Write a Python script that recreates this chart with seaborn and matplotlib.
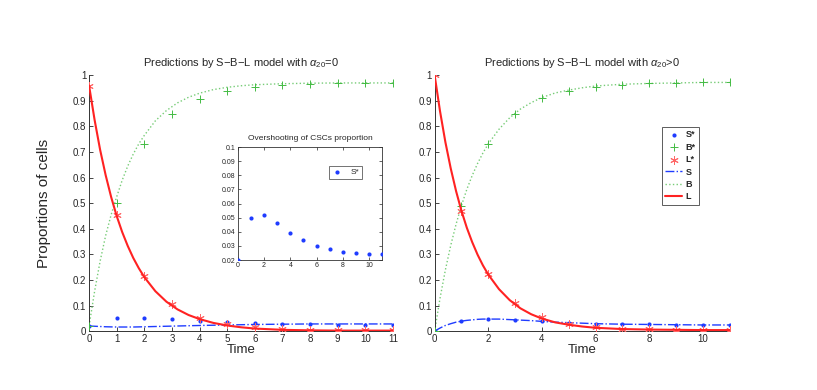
import numpy as np
import matplotlib
matplotlib.use("Agg")
import matplotlib.pyplot as plt
import seaborn as sns

# measured time points (markers)
t_obs = [0, 1, 2, 3, 4, 5, 6, 7, 8, 9, 10, 11]
# model time grid (curves)
t_mod = [0, 0.2, 0.4, 0.6, 0.8, 1.0, 1.2, 1.4, 1.6, 1.8, 2.0, 2.4, 2.8, 3.2, 3.6, 4.0,
         4.5, 5, 5.5, 6, 7, 8, 9, 10, 11]

# left panel: alpha20 = 0
s_obs_l = [0.020, 0.050, 0.052, 0.046, 0.0395, 0.034, 0.030, 0.0278, 0.026, 0.025, 0.0245, 0.024]
b_obs_l = [0.020, 0.500, 0.733, 0.849, 0.908, 0.938, 0.955, 0.963, 0.966, 0.969, 0.970, 0.970]
l_obs_l = [0.960, 0.452, 0.216, 0.105, 0.053, 0.028, 0.015, 0.009, 0.006, 0.005, 0.004, 0.004]
s_mod_l = [0.020, 0.019, 0.018, 0.017, 0.0165, 0.016, 0.016, 0.016, 0.016, 0.0165, 0.017, 0.018,
           0.019, 0.020, 0.021, 0.022, 0.023, 0.024, 0.025, 0.026, 0.027, 0.028, 0.028, 0.028, 0.028]
b_mod_l = [0.020, 0.155, 0.273, 0.373, 0.455, 0.525, 0.590, 0.645, 0.692, 0.732, 0.765, 0.822,
           0.862, 0.892, 0.914, 0.930, 0.944, 0.953, 0.959, 0.963, 0.967, 0.969, 0.970, 0.970, 0.970]
l_mod_l = [0.960, 0.826, 0.709, 0.610, 0.524, 0.450, 0.387, 0.333, 0.286, 0.246, 0.211, 0.156,
           0.115, 0.085, 0.063, 0.047, 0.032, 0.022, 0.015, 0.010, 0.005, 0.003, 0.002, 0.002, 0.002]

# right panel: alpha20 > 0
s_obs_r = [0.000, 0.040, 0.047, 0.044, 0.038, 0.033, 0.029, 0.027, 0.026, 0.025, 0.024, 0.024]
b_obs_r = [0.000, 0.490, 0.730, 0.848, 0.910, 0.940, 0.955, 0.963, 0.968, 0.970, 0.972, 0.973]
l_obs_r = [1.000, 0.470, 0.225, 0.110, 0.055, 0.028, 0.016, 0.010, 0.007, 0.005, 0.004, 0.004]
s_mod_r = [0.000, 0.012, 0.022, 0.029, 0.035, 0.039, 0.042, 0.044, 0.046, 0.047, 0.047, 0.047,
           0.045, 0.043, 0.041, 0.038, 0.035, 0.033, 0.031, 0.029, 0.027, 0.026, 0.025, 0.024, 0.024]
b_mod_r = [0.000, 0.128, 0.239, 0.335, 0.418, 0.491, 0.554, 0.608, 0.655, 0.696, 0.732, 0.789,
           0.834, 0.868, 0.893, 0.913, 0.931, 0.942, 0.951, 0.958, 0.965, 0.968, 0.970, 0.972, 0.972]
l_mod_r = [1.000, 0.860, 0.739, 0.636, 0.547, 0.470, 0.404, 0.348, 0.299, 0.257, 0.221, 0.164,
           0.121, 0.089, 0.066, 0.049, 0.034, 0.025, 0.018, 0.013, 0.008, 0.006, 0.005, 0.004, 0.004]

sns.set_style("ticks")
plt.rcParams['font.family'] = ['Liberation Sans', 'DejaVu Sans']
plt.rcParams['mathtext.fontset'] = 'custom'
plt.rcParams['mathtext.rm'] = 'Liberation Sans'
plt.rcParams['mathtext.it'] = 'Liberation Sans:italic'
plt.rcParams['xtick.direction'] = 'in'
plt.rcParams['ytick.direction'] = 'in'

BLUE = '#1f3cff'
GREEN = '#44bb44'
GREEN_L = '#77cc77'
RED = '#ff2222'
RED_M = '#ff6666'
ASTERISK = (6, 2, 0)

fig = plt.figure(figsize=(8.17, 3.90), dpi=100)
ax_l = fig.add_axes([0.109, 0.151, 0.372, 0.656])
ax_r = fig.add_axes([0.532, 0.151, 0.361, 0.656])


def draw_panel(ax, s_obs, b_obs, l_obs, s_mod, b_mod, l_mod):
    sns.scatterplot(x=t_obs, y=s_obs, ax=ax, color=BLUE, marker='o', s=9, linewidth=0,
                    label='S*', zorder=4)
    sns.scatterplot(x=t_obs, y=b_obs, ax=ax, color=GREEN, marker='+', s=40, linewidth=0.7,
                    label='B*', zorder=4)
    sns.scatterplot(x=t_obs, y=l_obs, ax=ax, color=RED_M, marker=ASTERISK, s=30, linewidth=0.7,
                    edgecolor=RED_M, label='L*', zorder=4)
    sns.lineplot(x=t_mod, y=s_mod, ax=ax, color=BLUE, linestyle='-.', linewidth=1.0, label='S')
    sns.lineplot(x=t_mod, y=b_mod, ax=ax, color=GREEN_L, linestyle=':', linewidth=1.0, label='B')
    sns.lineplot(x=t_mod, y=l_mod, ax=ax, color=RED, linestyle='-', linewidth=1.5, label='L',
                 zorder=5)
    ax.set_xlim(0, 11)
    ax.set_ylim(0, 1)
    ax.set_yticks(np.arange(0, 1.01, 0.1))
    ax.set_yticklabels(['0', '0.1', '0.2', '0.3', '0.4', '0.5', '0.6', '0.7', '0.8', '0.9', '1'])
    ax.tick_params(labelsize=7, length=3, width=0.6, pad=2)
    ax.set_xlabel('Time', fontsize=9.5, labelpad=0)
    for sp in ['top', 'right']:
        ax.spines[sp].set_visible(False)
    for sp in ['left', 'bottom']:
        ax.spines[sp].set_linewidth(0.7)
        ax.spines[sp].set_color('#333333')


draw_panel(ax_l, s_obs_l, b_obs_l, l_obs_l, s_mod_l, b_mod_l, l_mod_l)
ax_l.set_xticks(range(0, 12))
ax_l.get_legend().remove()
ax_l.set_ylabel('Proportions of cells', fontsize=11, labelpad=16)
ax_l.set_title(r'Predictions by S$-$B$-$L model with $\alpha_{20}$=0', fontsize=8, pad=7)

draw_panel(ax_r, s_obs_r, b_obs_r, l_obs_r, s_mod_r, b_mod_r, l_mod_r)
ax_r.set_xticks(range(0, 12, 2))
ax_r.set_title(r'Predictions by S$-$B$-$L model with $\alpha_{20}$>0', fontsize=8, pad=7)
leg = ax_r.legend(loc='upper left', bbox_to_anchor=(0.755, 0.815), frameon=True,
                  fancybox=False, borderpad=0.35, handlelength=1.9, labelspacing=0.38,
                  handletextpad=0.4, prop={'weight': 'bold', 'size': 6.5})
leg.get_frame().set_edgecolor('#333333')
leg.get_frame().set_linewidth(0.7)

# inset
ax_in = fig.add_axes([0.291, 0.333, 0.177, 0.290])
sns.scatterplot(x=t_obs, y=s_obs_l, ax=ax_in, color=BLUE, marker='o', s=9, linewidth=0,
                label='S*', zorder=4)
ax_in.set_xlim(0, 11)
ax_in.set_ylim(0.02, 0.1)
ax_in.set_xticks(range(0, 11, 2))
ax_in.set_yticks(np.arange(0.02, 0.1001, 0.01))
ax_in.set_yticklabels(['0.02', '0.03', '0.04', '0.05', '0.06', '0.07', '0.08', '0.09', '0.1'])
ax_in.tick_params(labelsize=5, length=2, width=0.5, pad=1.5, top=True, right=True)
for sp in ax_in.spines.values():
    sp.set_linewidth(0.6)
    sp.set_color('#333333')
ax_in.set_title('Overshooting of CSCs proportion', fontsize=6, pad=5)
leg_in = ax_in.legend(loc='upper left', bbox_to_anchor=(0.6, 0.87), fontsize=6, frameon=True,
                      fancybox=False, borderpad=0.3, handlelength=1.5, handletextpad=0.8)
leg_in.get_frame().set_edgecolor('#333333')
leg_in.get_frame().set_linewidth(0.6)

fig.savefig('out.png', dpi=100)
